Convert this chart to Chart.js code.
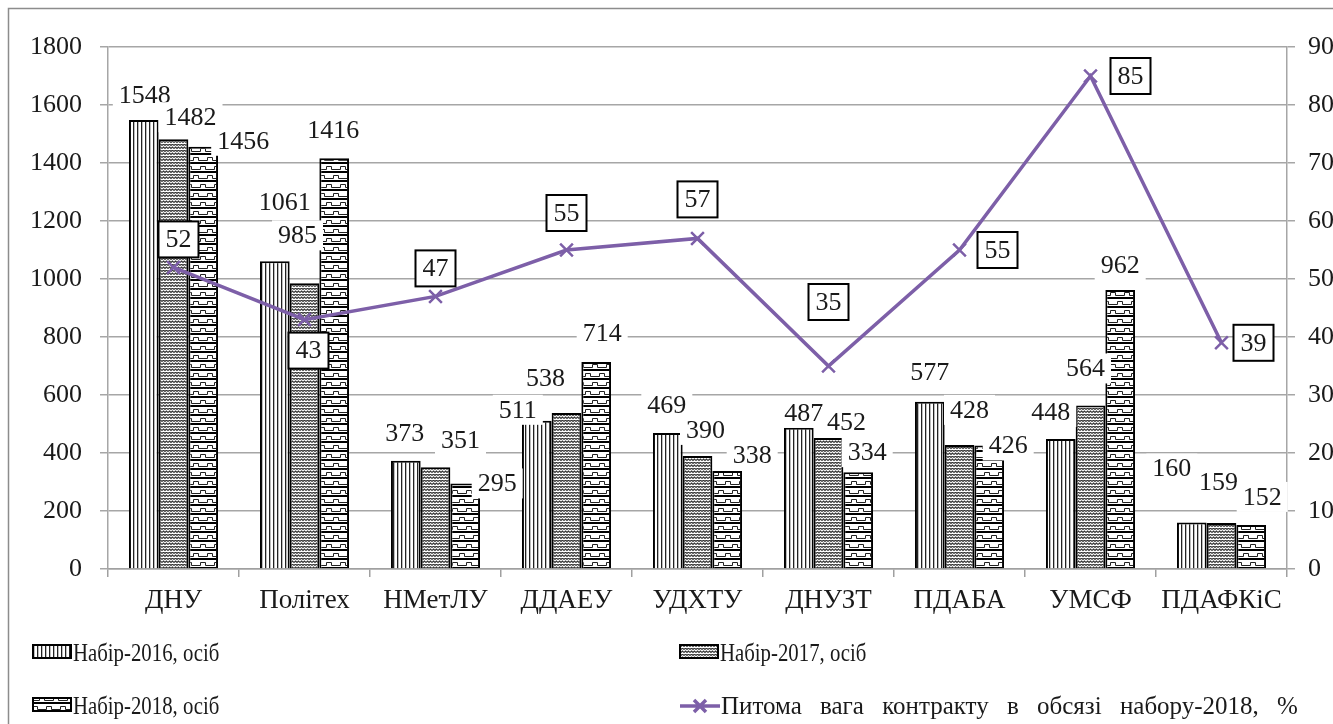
<!DOCTYPE html>
<html>
<head>
<meta charset="utf-8">
<script src="https://cdn.jsdelivr.net/npm/chart.js@4.4.1/dist/chart.umd.min.js"></script>
<style>
    html, body { margin: 0; padding: 0; background: #fff; overflow: hidden; }
    #wrap { width: 1333px; height: 724px; overflow: hidden; }
</style>
</head>
<body>
<div id="wrap"><canvas id="vnzChart" width="1380" height="724"></canvas></div>
<script>
// дані з рисунка
var categories = ["ДНУ", "Політех", "НМетЛУ", "ДДАЕУ", "УДХТУ", "ДНУЗТ", "ПДАБА", "УМСФ", "ПДАФКіС"];
var nabir2016 = [1548, 1061, 373, 511, 469, 487, 577, 448, 160];
var nabir2017 = [1482, 985, 351, 538, 390, 452, 428, 564, 159];
var nabir2018 = [1456, 1416, 295, 714, 338, 334, 426, 962, 152];
var contractShare = [52, 43, 47, 55, 57, 35, 55, 85, 39];
var seriesNames = ["Набір-2016, осіб", "Набір-2017, осіб", "Набір-2018, осіб", "Питома вага контракту в обсязі набору-2018, %"];

var serif = "'Liberation Serif', 'DejaVu Serif', serif";
var lineColor = "#7d5fa8";

// зсуви підписів (як розставлено на оригіналі)
var barLabelShift = [
    [[1, -25], [10, -59], [-1, -28], [-19, -11], [-1, -28], [5, -15], [0, -29], [-10, -27], [-20, -54]],
    [[17, -22], [-7, -48], [25, -27], [-21, -35], [8, -26], [18, -16], [10, -35], [-5, -37], [-3, -41]],
    [[40, -6], [-1, -28], [32, 0], [6, -29], [25, -16], [9, -20], [19, 0], [0, -25], [11, -28]]
];
var lineLabelShift = [[5, -28], [4, 31], [0, -28], [0, -37], [0, -39], [0, -64], [38, 0], [40, 0], [32, 0]];

function makePattern(w, h, draw) {
    var c = document.createElement('canvas');
    c.width = w;
    c.height = h;
    var g = c.getContext('2d');
    g.fillStyle = '#fff';
    g.fillRect(0, 0, w, h);
    draw(g);
    return g.createPattern(c, 'repeat');
}

var stripes = makePattern(4, 4, function (g) {
    g.fillStyle = '#222';
    g.fillRect(1, 0, 1.3, 4);
});

var dots = makePattern(6, 6, function (g) {
    g.strokeStyle = '#333';
    g.lineWidth = 1.2;
    g.beginPath();
    g.moveTo(0, 1.5); g.lineTo(1.5, 0); g.lineTo(3, 1.5); g.lineTo(4.5, 0); g.lineTo(6, 1.5);
    g.moveTo(0, 4.5); g.lineTo(1.5, 3); g.lineTo(3, 4.5); g.lineTo(4.5, 3); g.lineTo(6, 4.5);
    g.stroke();
});

var bricks = makePattern(14, 18, function (g) {
    g.fillStyle = '#000';
    g.fillRect(0, 0, 14, 2);
    g.fillRect(0, 9, 14, 2);
    g.strokeStyle = '#222';
    g.lineWidth = 1;
    g.beginPath();
    g.moveTo(0, 7.5); g.lineTo(4.5, 7.5); g.lineTo(4.5, 4.5); g.lineTo(9.5, 4.5); g.lineTo(9.5, 7.5); g.lineTo(14, 7.5);
    g.moveTo(0, 13.5); g.lineTo(2.5, 13.5); g.lineTo(2.5, 16.5); g.lineTo(11.5, 16.5); g.lineTo(11.5, 13.5); g.lineTo(14, 13.5);
    g.stroke();
});

var framePlugin = {
    id: 'frame',
    beforeDraw: function (chart) {
        var ctx = chart.ctx;
        ctx.save();
        ctx.fillStyle = '#fff';
        ctx.fillRect(0, 0, chart.width, chart.height);
        ctx.strokeStyle = '#8c8c8c';
        ctx.lineWidth = 1.5;
        ctx.beginPath();
        ctx.moveTo(8.5, 740);
        ctx.lineTo(8.5, 8.5);
        ctx.lineTo(1340, 8.5);
        ctx.stroke();
        ctx.restore();
    }
};

var labelsPlugin = {
    id: 'valueLabels',
    afterDatasetsDraw: function (chart) {
        var ctx = chart.ctx;
        ctx.save();
        ctx.font = '26px ' + serif;
        ctx.textAlign = 'center';
        ctx.textBaseline = 'middle';
        for (var s = 0; s < 3; s++) {
            var meta = chart.getDatasetMeta(s);
            var values = chart.data.datasets[s].data;
            meta.data.forEach(function (bar, i) {
                var txt = String(values[i]);
                var sh = barLabelShift[s][i];
                var x = bar.x + sh[0];
                var y = bar.y + sh[1];
                var w = ctx.measureText(txt).width + 12;
                ctx.fillStyle = '#fff';
                ctx.fillRect(x - w / 2, y - 15, w, 30);
                ctx.fillStyle = '#1a1a1a';
                ctx.fillText(txt, x, y + 1);
            });
        }
        // підписи лінії в рамках
        var lineMeta = chart.getDatasetMeta(3);
        lineMeta.data.forEach(function (pt, i) {
            var txt = String(contractShare[i]);
            var sh = lineLabelShift[i];
            var x = pt.x + sh[0];
            var y = pt.y + sh[1];
            ctx.fillStyle = '#fff';
            ctx.fillRect(x - 20, y - 18, 40, 36);
            ctx.strokeStyle = '#000';
            ctx.lineWidth = 2;
            ctx.strokeRect(x - 20, y - 18, 40, 36);
            ctx.fillStyle = '#1a1a1a';
            ctx.fillText(txt, x, y + 1);
        });
        ctx.restore();
    }
};

var legendPlugin = {
    id: 'bottomLegend',
    afterDraw: function (chart) {
        var ctx = chart.ctx;
        var spots = [[33, 653], [680, 653], [33, 706], [680, 706]];
        ctx.save();
        ctx.textBaseline = 'middle';
        ctx.textAlign = 'left';
        for (var k = 0; k < 4; k++) {
            var x = spots[k][0];
            var y = spots[k][1];
            var ds = chart.data.datasets[k];
            if (k < 3) {
                ctx.fillStyle = ds.backgroundColor;
                ctx.fillRect(x, y - 8, 38, 13);
                ctx.strokeStyle = '#000';
                ctx.lineWidth = 2;
                ctx.strokeRect(x, y - 8, 38, 13);
                // текст у легенді вужчий, як на оригіналі
                ctx.save();
                ctx.font = '26px ' + serif;
                ctx.translate(x + 40, y + 1);
                ctx.scale(0.8, 1);
                ctx.fillStyle = '#1a1a1a';
                ctx.fillText(ds.label, 0, 0);
                ctx.restore();
            } else {
                ctx.strokeStyle = lineColor;
                ctx.lineWidth = 3.5;
                ctx.beginPath();
                ctx.moveTo(x, y);
                ctx.lineTo(x + 40, y);
                ctx.moveTo(x + 14, y - 6);
                ctx.lineTo(x + 26, y + 6);
                ctx.moveTo(x + 14, y + 6);
                ctx.lineTo(x + 26, y - 6);
                ctx.stroke();
                ctx.font = '25px ' + serif;
                ctx.wordSpacing = '12px';
                ctx.fillStyle = '#1a1a1a';
                ctx.fillText(ds.label, x + 41, y + 1);
            }
        }
        ctx.restore();
    }
};

var vnzChart = new Chart("vnzChart", {
    type: "bar",
    data: {
        labels: categories,
        datasets: [{
            label: seriesNames[0],
            data: nabir2016,
            backgroundColor: stripes,
            borderColor: '#000',
            borderWidth: 2,
            order: 1
        },
        {
            label: seriesNames[1],
            data: nabir2017,
            backgroundColor: dots,
            borderColor: '#000',
            borderWidth: 2,
            order: 1
        },
        {
            label: seriesNames[2],
            data: nabir2018,
            backgroundColor: bricks,
            borderColor: '#000',
            borderWidth: 2,
            order: 1
        },
        {
            type: "line",
            label: seriesNames[3],
            data: contractShare,
            yAxisID: 'y1',
            borderColor: lineColor,
            borderWidth: 3.5,
            pointStyle: 'crossRot',
            pointRadius: 9,
            pointBorderWidth: 2.5,
            pointBorderColor: lineColor,
            fill: false,
            order: 0
        }]
    },
    options: {
        responsive: false,
        devicePixelRatio: 1,
        animation: false,
        layout: {
            padding: { top: 47, left: 0, right: 0, bottom: 0 }
        },
        datasets: {
            bar: {
                categoryPercentage: 0.68,
                barPercentage: 1.0
            }
        },
        plugins: {
            legend: { display: false },
            tooltip: { enabled: false }
        },
        scales: {
            x: {
                grid: {
                    offset: true,
                    drawOnChartArea: false,
                    tickLength: 8,
                    color: '#a0a0a0',
                    lineWidth: 1.5
                },
                border: { color: '#a0a0a0', width: 1.5 },
                ticks: {
                    color: '#1a1a1a',
                    padding: 8,
                    font: { size: 27, family: serif }
                },
                afterFit: function (scale) { scale.height = 155; }
            },
            y: {
                position: 'left',
                min: 0,
                max: 1800,
                grid: { color: '#a6a6a6', lineWidth: 1.5, tickLength: 8 },
                border: { color: '#a6a6a6', width: 1.5 },
                ticks: {
                    stepSize: 200,
                    color: '#1a1a1a',
                    padding: 18,
                    font: { size: 26, family: serif },
                    callback: function (v) { return String(v); }
                },
                afterFit: function (scale) { scale.width = 108; }
            },
            y1: {
                position: 'right',
                min: 0,
                max: 90,
                grid: { drawOnChartArea: false, color: '#a6a6a6', lineWidth: 1.5, tickLength: 8 },
                border: { color: '#a6a6a6', width: 1.5 },
                ticks: {
                    stepSize: 10,
                    color: '#1a1a1a',
                    padding: 13,
                    font: { size: 26, family: serif },
                    callback: function (v) { return String(v); }
                },
                afterFit: function (scale) { scale.width = 1380 - 1287; }
            }
        }
    },
    plugins: [framePlugin, labelsPlugin, legendPlugin]
});
</script>
</body>
</html>
